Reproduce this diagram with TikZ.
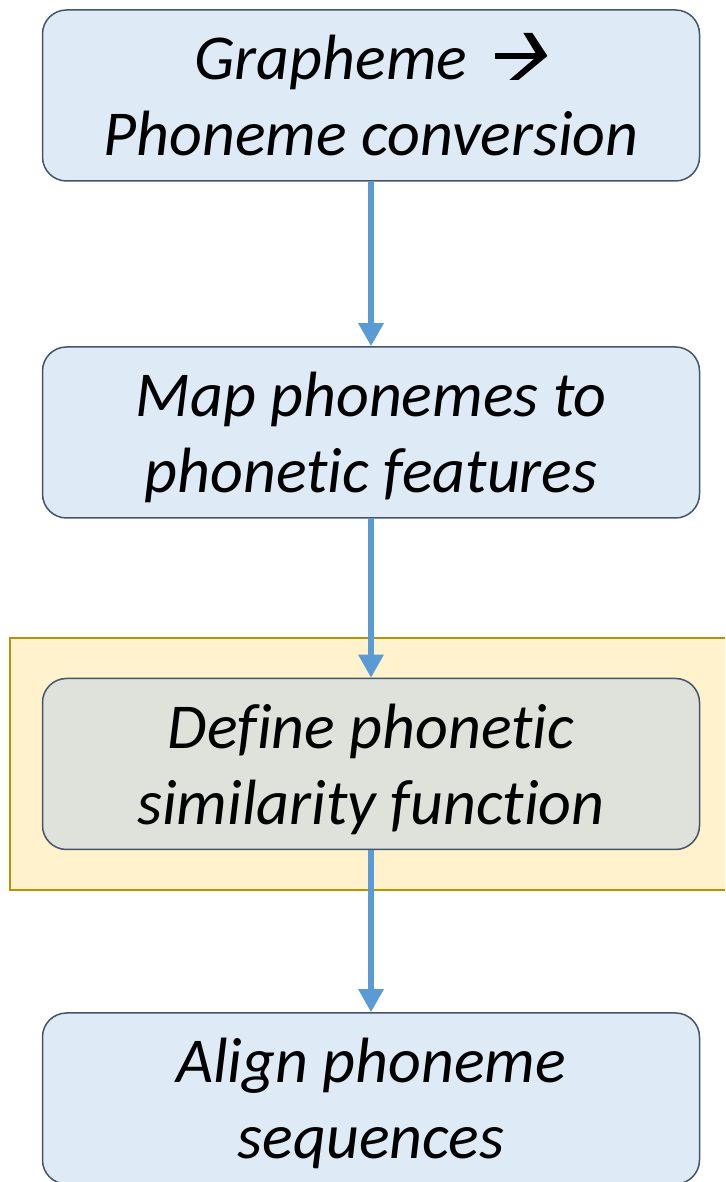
\documentclass[tikz,border=0pt]{standalone}
\usepackage{fontspec}
\setmainfont{Carlito}[Ligatures=NoCommon]
\usetikzlibrary{arrows.meta}
\definecolor{boxfill}{HTML}{DEEBF7}
\definecolor{boxline}{HTML}{44546A}
\definecolor{hlfill}{HTML}{FFF2CC}
\definecolor{hlline}{HTML}{BF9000}
\definecolor{keyfill}{HTML}{DEE2DA}
\definecolor{flow}{HTML}{5B9BD5}
% one text line with a fixed strut so every box centres its two lines alike
\newcommand{\steprow}[1]{\rule[-15.5pt]{0pt}{76pt}#1}
% heavy chevron arrow set inline with the text
\newcommand{\convarrow}{\tikz[baseline=0pt,x=1pt,y=1pt,sharp corners]{%
  \fill[black] (0,21) rectangle (46,27);
  \fill[black] (28,47) -- (37,47) -- (52,24) -- (23,0) -- (14,0) -- (42,24) -- cycle;}}
\tikzset{
  stepbox/.style={draw=boxline, line width=1.5pt, fill=boxfill,
    rounded corners=24pt, minimum width=657pt, minimum height=171pt,
    inner sep=0pt, align=center,
    font=\fontsize{64}{76}\selectfont\itshape},
  keybox/.style={stepbox, fill=keyfill},
  highlight/.style={draw=hlline, line width=2pt, fill=hlfill},
  flowarrow/.style={draw=flow, line width=6pt,
    -{Triangle[length=23pt,width=24pt]}}
}
\begin{document}
\begin{tikzpicture}[x=1pt,y=1pt]
  \useasboundingbox (0,0) rectangle (725,1182);
  \clip (0,0) rectangle (725,1182);
  % highlighted stage
  \draw[highlight] (10,544) rectangle (760,292);
  % pipeline steps
  \node[stepbox] (g2p) at (371,1086.5)
    {\steprow{Grapheme\hspace{28pt}\convarrow\hspace{2pt}}\\\steprow{Phoneme conversion}};
  \node[stepbox] (feat) at (371,749.5)
    {\steprow{Map phonemes to}\\\steprow{phonetic features}};
  \node[keybox] (sim) at (371,418)
    {\steprow{Define phonetic}\\\steprow{similarity function}};
  \node[stepbox] (align) at (371,83.5)
    {\steprow{Align phoneme}\\\steprow{sequences}};
  % flow between steps
  \draw[flowarrow] (g2p.south) -- (feat.north);
  \draw[flowarrow] (feat.south) -- (sim.north);
  \draw[flowarrow] (sim.south) -- (align.north);
\end{tikzpicture}
\end{document}
